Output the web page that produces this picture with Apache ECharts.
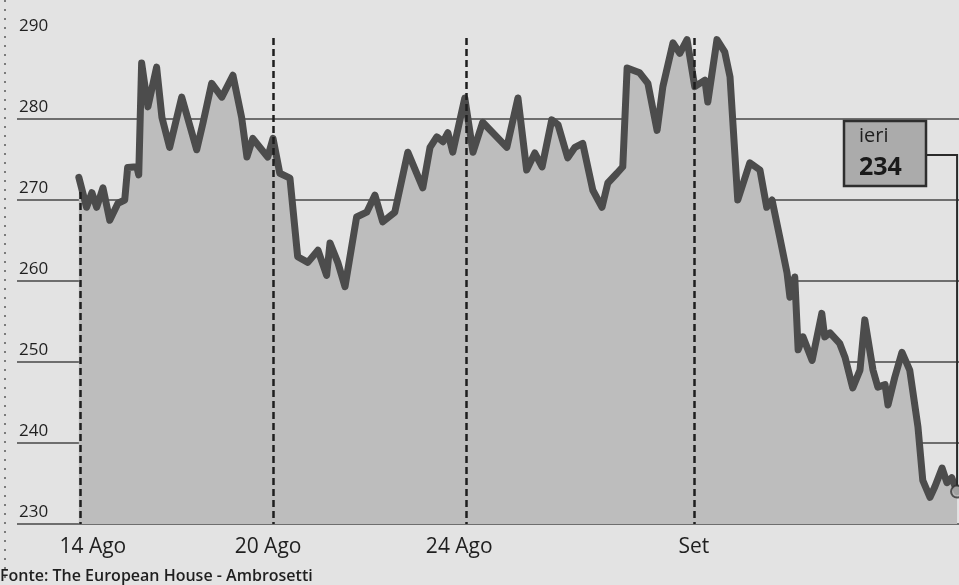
<!DOCTYPE html>
<html>
<head>
<meta charset="utf-8">
<script src="https://cdn.jsdelivr.net/npm/echarts@6/dist/echarts.min.js"></script>
<style>
  html, body { margin: 0; padding: 0; background: #e3e3e3; }
  #chart { width: 959px; height: 585px; }
</style>
</head>
<body>
<div id="chart"></div>
<script>
// Trading-day position of each sample (0 = 14 Ago) and the index value at it
const dayPos = [
  -0.02, 0.14, 0.25, 0.35, 0.48, 0.62, 0.79, 0.93, 0.99, 1.18, 1.22, 1.28, 1.41, 1.59, 1.70,
  1.86, 2.11, 2.42, 2.55, 2.73, 2.94, 3.17, 3.35, 3.46, 3.58, 3.89, 4.00, 4.14, 4.35, 4.51,
  4.72, 4.93, 5.11, 5.18, 5.34, 5.49, 5.73, 5.94, 6.11, 6.27, 6.52, 6.79, 7.10, 7.25, 7.39,
  7.52, 7.62, 7.72, 7.97, 8.14, 8.34, 8.84, 9.07, 9.25, 9.42, 9.57, 9.77, 9.90, 10.10, 10.25,
  10.41, 10.62, 10.81, 10.93, 11.12, 11.24, 11.33, 11.59, 11.76, 11.95, 12.07, 12.28, 12.42, 12.57, 12.73,
  12.94, 13.00, 13.19, 13.35, 13.46, 13.62, 13.87, 14.08, 14.22, 14.33, 14.49, 14.64, 14.70, 14.80, 14.87,
  14.97, 15.16, 15.36, 15.42, 15.53, 15.73, 15.84, 16.00, 16.15, 16.25, 16.42, 16.52, 16.67, 16.73, 16.87,
  17.02, 17.18, 17.35, 17.45, 17.60, 17.70, 17.85, 17.95, 18.05, 18.16
];
const values = [
  272.8, 269.1, 270.9, 269.1, 271.5, 267.5, 269.6, 270.0, 274.0, 274.1, 273.1, 286.9, 281.5, 286.4, 280.2,
  276.5, 282.7, 276.2, 279.5, 284.4, 282.7, 285.4, 280.2, 275.3, 277.6, 275.3, 277.6, 273.3, 272.7, 263.0,
  262.3, 263.8, 260.7, 264.7, 262.3, 259.3, 267.9, 268.5, 270.6, 267.3, 268.5, 275.9, 271.5, 276.5, 277.8,
  277.2, 278.3, 275.9, 282.6, 275.9, 279.6, 276.5, 282.6, 273.7, 275.8, 274.1, 279.9, 279.3, 275.2, 276.5,
  277.0, 271.2, 269.1, 272.1, 273.3, 274.1, 286.3, 285.7, 284.4, 278.6, 284.0, 289.4, 288.1, 289.8, 284.0,
  284.8, 282.1, 289.8, 288.3, 285.2, 270.0, 274.6, 273.7, 269.1, 270.0, 265.4, 261.0, 258.0, 260.5, 251.5,
  253.1, 250.2, 256.0, 253.1, 253.6, 252.3, 250.6, 246.8, 249.0, 255.2, 249.0, 246.9, 247.2, 244.7, 248.1,
  251.2, 249.0, 242.0, 235.4, 233.3, 234.6, 236.9, 235.1, 235.7, 234.0
];
// Date markers on the time axis
const tickNames = ['14 Ago', '20 Ago', '24 Ago', 'Set'];
const tickDays = [0, 4, 8, 12.71];
// Value-axis range and step
const yMin = 230, yMax = 290, yStep = 10;
// Callout text
const calloutTitle = 'ieri';
const sourceNote = 'Fonte: The European House - Ambrosetti';

const FONT = '"Open Sans", "Noto Sans", sans-serif';
const INK = '#1f1f1f';
// horizontal nudge (px) of each date label relative to its marker
const labelShift = [13, -5, -7, 0];

const series = dayPos.map((d, i) => [d, values[i]]);
const lastIdx = values.length - 1;

const rich = {};
tickNames.forEach((n, i) => {
  const s = labelShift[i];
  rich['t' + i] = {
    fontFamily: FONT, fontSize: 21, fontWeight: 500, color: INK, lineHeight: 22,
    padding: s >= 0 ? [0, 0, 0, 2 * s] : [0, -2 * s, 0, 0]
  };
});

const markLines = tickDays.map((d, i) => {
  // the first marker starts at the line itself, the others span the whole plot
  const top = i === 0 ? 271 : yMax;
  return [{ coord: [d, top] }, { coord: [d, yMin] }];
});

const chart = echarts.init(document.getElementById('chart'), null, { renderer: 'canvas' });

chart.setOption({
  backgroundColor: '#e3e3e3',
  animation: false,
  grid: { left: 17, right: 0, top: 38, bottom: 61 },
  xAxis: {
    type: 'value',
    min: -1.3,
    max: 18.2,
    axisLine: { show: false },
    axisTick: { show: false },
    splitLine: { show: false },
    axisLabel: {
      customValues: tickDays,
      margin: 12,
      verticalAlign: 'top',
      formatter: (v) => {
        const i = tickDays.indexOf(v);
        return i < 0 ? '' : '{t' + i + '|' + tickNames[i] + '}';
      },
      rich: rich
    }
  },
  yAxis: {
    type: 'value',
    min: yMin,
    max: yMax,
    interval: yStep,
    axisLine: { show: false },
    axisTick: { show: false },
    splitLine: {
      show: true,
      showMaxLine: false,
      lineStyle: { color: '#474747', width: 1.6 }
    },
    axisLabel: {
      inside: true,
      margin: 2,
      verticalAlign: 'bottom',
      padding: [0, 0, 3, 0],
      fontFamily: FONT,
      fontSize: 17,
      fontWeight: 500,
      color: INK
    }
  },
  series: [
    {
      type: 'line',
      data: series,
      showSymbol: false,
      symbol: 'none',
      lineStyle: { color: '#4c4c4c', width: 7, join: 'round', cap: 'round' },
      areaStyle: { color: '#bdbdbd', opacity: 1, origin: 'start' },
      z: 3,
      markLine: {
        silent: true,
        symbol: ['none', 'none'],
        label: { show: false },
        lineStyle: { color: '#1e1e1e', width: 2.5, type: [7, 4] },
        data: markLines,
        z: 4
      }
    },
    {
      type: 'scatter',
      data: [[dayPos[lastIdx], values[lastIdx]]],
      symbol: 'circle',
      symbolSize: 12,
      itemStyle: { color: '#b5b5b5', borderColor: '#333', borderWidth: 2 },
      clip: false,
      z: 5
    }
  ]
});

// callout box with its leader line to the last point
const endPx = chart.convertToPixel({ gridIndex: 0 }, [dayPos[lastIdx], values[lastIdx]]);
const boxX = 844, boxY = 121, boxW = 82, boxH = 65, leadY = 155;
chart.setOption({
  graphic: [
    {
      type: 'polyline',
      shape: { points: [[boxX + boxW, leadY], [endPx[0], leadY], [endPx[0], endPx[1] - 6]] },
      style: { stroke: '#2a2a2a', lineWidth: 2, fill: null },
      z: 10
    },
    {
      type: 'rect',
      shape: { x: boxX, y: boxY, width: boxW, height: boxH },
      style: { fill: '#ababab', stroke: '#2e2e2e', lineWidth: 2.5 },
      z: 11
    },
    {
      type: 'text',
      x: boxX + 15, y: boxY + 5,
      style: { text: calloutTitle, font: '20px ' + FONT, fill: INK, textVerticalAlign: 'top' },
      z: 12
    },
    {
      type: 'text',
      x: boxX + 15, y: boxY + 34,
      style: { text: String(Math.round(values[lastIdx])), font: 'bold 25px ' + FONT, fill: '#1a1a1a', textVerticalAlign: 'top' },
      z: 12
    },
    {
      type: 'text',
      x: 0, y: 568,
      style: { text: sourceNote, font: '600 16px ' + FONT, fill: INK, textVerticalAlign: 'top' },
      z: 12
    },
    {
      type: 'line',
      shape: { x1: 5, y1: 0, x2: 5, y2: 585 },
      style: { stroke: '#5a5a5a', lineWidth: 1.5, lineDash: [2, 7] },
      z: 1
    }
  ]
});
</script>
</body>
</html>
